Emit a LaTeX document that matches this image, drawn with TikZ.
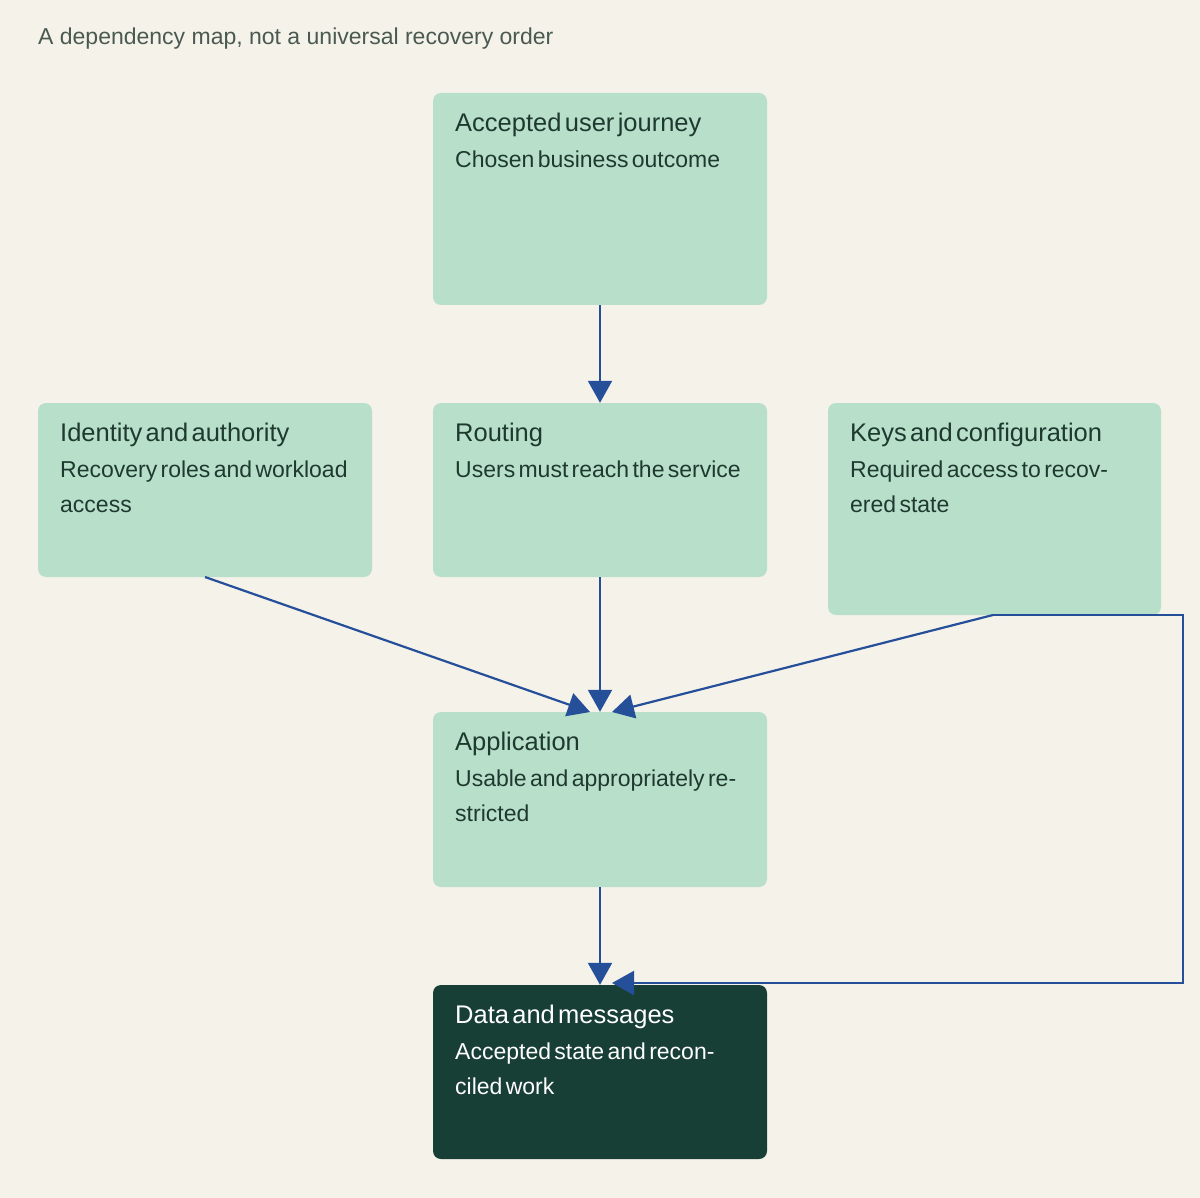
\documentclass[tikz,border=0pt]{standalone}
\usepackage{fontspec}
\setmainfont{Liberation Sans}
\usetikzlibrary{arrows.meta}
\definecolor{bg}{HTML}{F5F2EA}
\definecolor{boxfill}{HTML}{B8DFCA}
\definecolor{dark}{HTML}{173F35}
\definecolor{txt}{HTML}{1E3A30}
\definecolor{arr}{HTML}{264F9A}
\definecolor{capc}{HTML}{4A5A50}
\newcommand{\bx}[7]{%
 \node[#7] (#1) at ({(#2+#4)/2},{(#3+#5)/2}) [minimum width={(#4-#2)*1pt}, minimum height={(#5-#3)*1pt}] {};
 \node[anchor=north west, inner sep=0pt, text width=296pt, align=left] (#1t) at (#2+22,#3+20) {#6};}
\newcommand{\ttl}[1]{{\fontsize{25.5}{38}\selectfont #1\par}}
\newcommand{\sbt}[1]{{\fontsize{23}{35}\selectfont #1\par}}
\begin{document}
\begin{tikzpicture}[x=1pt,y=-1pt,
  box/.style={fill=boxfill, rounded corners=8pt, draw=none, inner sep=0pt},
  darkbox/.style={fill=dark, rounded corners=8pt, draw=none, inner sep=0pt},
  conn/.style={draw=arr, line width=2.2pt, -{Triangle[length=22pt,width=24pt]}}]
\fill[bg] (0,0) rectangle (1200,1198);
\useasboundingbox (0,0) rectangle (1200,1198);
\node[anchor=base west, inner sep=0pt, text=capc, font=\fontsize{23}{28}\selectfont] (title) at (38,45) {A dependency map, not a universal recovery order};
\begin{scope}[text=txt]
\bx{top}{433}{93}{767}{305}{\ttl{Accepted user journey}\vspace{1pt}\sbt{Chosen business outcome}}{box}
\bx{ident}{38}{403}{372}{577}{\ttl{Identity and authority}\vspace{1pt}\sbt{Recovery roles and workload access}}{box}
\bx{route}{433}{403}{767}{577}{\ttl{Routing}\vspace{1pt}\sbt{Users must reach the service}}{box}
\bx{keys}{828}{403}{1161}{615}{\ttl{Keys and configuration}\vspace{1pt}\sbt{Required access to recovered state}}{box}
\bx{app}{433}{712}{767}{887}{\ttl{Application}\vspace{1pt}\sbt{Usable and appropriately restricted}}{box}
\end{scope}
\begin{scope}[text=white]
\bx{data}{433}{985}{767}{1159}{\ttl{Data and messages}\vspace{1pt}\sbt{Accepted state and reconciled work}}{darkbox}
\end{scope}
\coordinate (identout) at (205,577);
\coordinate (keysout) at (993,615);
\coordinate (c1) at (1183,615);
\coordinate (c2) at (1183,983);
\draw[conn] (top.south) -- (route.north);
\draw[conn] (identout) -- (590,712);
\draw[conn] (route.south) -- (app.north);
\draw[conn] (keysout) -- (612,712);
\draw[conn] (app.south) -- (data.north);
\draw[conn] (keysout) -- (c1) -- (c2) -- (612,983);
\end{tikzpicture}
\end{document}
